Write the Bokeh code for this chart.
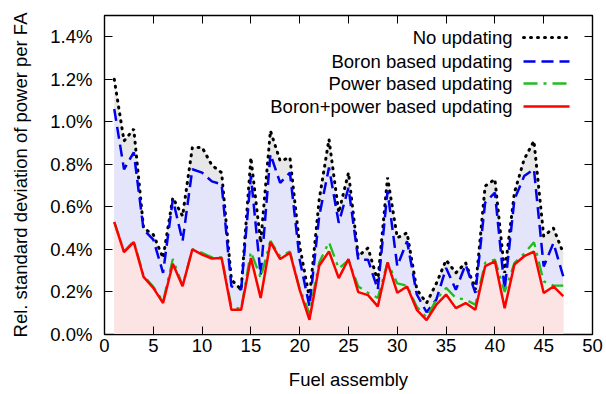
from bokeh.plotting import figure
from bokeh.models import (Range1d, LinearAxis, FixedTicker, PrintfTickFormatter,
                          CustomJSTickFormatter, Label, Arrow, ColumnDataSource)
from bokeh.embed import file_html
from bokeh.resources import INLINE

# ---------------- data (relative std. deviation, %) ----------------
assembly = list(range(1, 48))
no_updating = [1.20, 0.91, 0.966, 0.50, 0.47, 0.36, 0.643, 0.557, 0.879, 0.88,
               0.796, 0.761, 0.258, 0.211, 0.832, 0.432, 0.958, 0.816, 0.832, 0.415,
               0.172, 0.635, 0.918, 0.573, 0.761, 0.368, 0.407, 0.25, 0.738, 0.455,
               0.478, 0.211, 0.148, 0.24, 0.35, 0.29, 0.337, 0.211, 0.698, 0.73,
               0.29, 0.667, 0.824, 0.91, 0.462, 0.50, 0.384]
boron_updating = [1.06, 0.777, 0.856, 0.494, 0.446, 0.29, 0.635, 0.439, 0.777, 0.761,
                  0.72, 0.706, 0.227, 0.211, 0.745, 0.28, 0.848, 0.713, 0.761, 0.352,
                  0.132, 0.557, 0.785, 0.525, 0.69, 0.352, 0.352, 0.211, 0.675, 0.321,
                  0.439, 0.188, 0.105, 0.164, 0.313, 0.21, 0.329, 0.196, 0.62, 0.667,
                  0.211, 0.635, 0.745, 0.777, 0.32, 0.43, 0.274]
power_updating = [0.53, 0.39, 0.44, 0.277, 0.225, 0.155, 0.355, 0.23, 0.40, 0.384,
                  0.363, 0.363, 0.132, 0.12, 0.39, 0.266, 0.44, 0.367, 0.39, 0.215,
                  0.10, 0.338, 0.434, 0.31, 0.35, 0.226, 0.196, 0.172, 0.339, 0.24,
                  0.23, 0.13, 0.08, 0.164, 0.219, 0.172, 0.164, 0.14, 0.337, 0.352,
                  0.20, 0.337, 0.38, 0.434, 0.25, 0.23, 0.23]
boron_power_updating = [0.528, 0.387, 0.434, 0.271, 0.219, 0.148, 0.333, 0.227, 0.40, 0.376,
                        0.357, 0.36, 0.116, 0.116, 0.36, 0.172, 0.434, 0.355, 0.384, 0.21,
                        0.069, 0.323, 0.391, 0.265, 0.355, 0.199, 0.185, 0.132, 0.339, 0.196,
                        0.226, 0.116, 0.068, 0.14, 0.188, 0.124, 0.148, 0.116, 0.321, 0.344,
                        0.124, 0.329, 0.368, 0.39, 0.195, 0.226, 0.18]
series_labels = ["No updating", "Boron based updating", "Power based updating",
                 "Boron+power based updating"]
x_ticks = [0, 5, 10, 15, 20, 25, 30, 35, 40, 45, 50]
y_ticks = [0.0, 0.2, 0.4, 0.6, 0.8, 1.0, 1.2, 1.4]

FONT = "Liberation Sans"
FS = "18.5px"

src = ColumnDataSource(dict(x=assembly, a=no_updating, b=boron_updating,
                            c=power_updating, d=boron_power_updating))

p = figure(width=606, height=394, output_backend="svg", toolbar_location=None,
           x_range=Range1d(0, 50), y_range=Range1d(0, 1.5),
           min_border_left=104, min_border_right=14, min_border_top=15,
           min_border_bottom=60)
p.grid.visible = False
p.outline_line_color = "black"
p.outline_line_width = 1.4
p.background_fill_color = "white"
p.border_fill_color = "white"

# axes
for ax in (p.xaxis[0], p.yaxis[0]):
    ax.major_tick_in = 8
    ax.major_tick_out = 0
    ax.minor_tick_in = 0
    ax.minor_tick_out = 0
    ax.axis_line_color = "black"
    ax.major_tick_line_color = "black"
    ax.major_label_text_font = FONT
    ax.major_label_text_font_size = FS
    ax.major_label_text_color = "black"
    ax.axis_label_text_font = FONT
    ax.axis_label_text_font_size = FS
    ax.axis_label_text_font_style = "normal"
    ax.axis_label_text_color = "black"

p.xaxis[0].ticker = FixedTicker(ticks=x_ticks)
p.xaxis[0].axis_label = "Fuel assembly"
p.xaxis[0].major_label_standoff = 4
p.xaxis[0].axis_label_standoff = 14
p.yaxis[0].ticker = FixedTicker(ticks=y_ticks)
p.yaxis[0].formatter = PrintfTickFormatter(format="%.1f%%")
p.yaxis[0].axis_label = "Rel. standard deviation of power per FA"
p.yaxis[0].major_label_standoff = 12
p.yaxis[0].axis_label_standoff = 16

# mirrored ticks (no labels)
blank = CustomJSTickFormatter(code="return ''")
top = LinearAxis(ticker=FixedTicker(ticks=x_ticks), formatter=blank,
                 major_tick_in=8, major_tick_out=0, minor_tick_in=0, minor_tick_out=0,
                 major_label_standoff=0)
right = LinearAxis(ticker=FixedTicker(ticks=y_ticks), formatter=blank,
                   major_tick_in=8, major_tick_out=0, minor_tick_in=0, minor_tick_out=0,
                   major_label_standoff=0)
p.add_layout(top, "above")
p.add_layout(right, "right")

# fills
p.varea(x="x", y1=0, y2="a", source=src, fill_color="#e7e7e7")
p.varea(x="x", y1=0, y2="b", source=src, fill_color="#e4e5fa")
p.varea(x="x", y1=0, y2="c", source=src, fill_color="#e3f5e3")
p.varea(x="x", y1=0, y2="d", source=src, fill_color="#fde4e4")

styles = [
    dict(line_color="black", line_width=3, line_dash="1 6", line_cap="round"),
    dict(line_color="#0000ee", line_width=2.5, line_dash="12 6"),
    dict(line_color="#22bb22", line_width=2.3, line_dash="14 6 3 6"),
    dict(line_color="#ff0000", line_width=2.5),
]
for col, st in zip(["a", "b", "c", "d"], styles):
    p.line(x="x", y=col, source=src, **st)

# legend (top right, text right-aligned, sample to the right)
leg_y = [297, 273, 251, 228]
for lab, st, yy in zip(series_labels, styles, leg_y):
    p.add_layout(Label(x=408, y=yy, x_units="screen", y_units="screen", text=lab,
                       text_align="right", text_baseline="middle",
                       text_font=FONT, text_font_size=FS, text_color="black"))
    p.add_layout(Arrow(x_start=419, y_start=yy, x_end=465, y_end=yy,
                       start_units="screen", end_units="screen", start=None, end=None,
                       **st))

open("out.html", "w").write(file_html(p, INLINE))
